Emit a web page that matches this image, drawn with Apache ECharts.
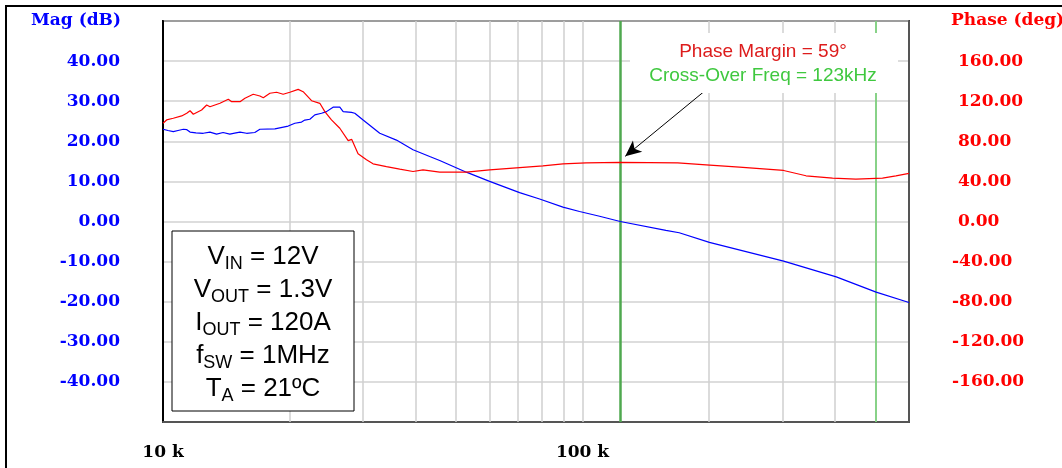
<!DOCTYPE html>
<html>
<head>
<meta charset="utf-8">
<script src="https://cdn.jsdelivr.net/npm/echarts@6/dist/echarts.min.js"></script>
<style>
  html, body { margin: 0; padding: 0; background: #ffffff; }
  #chart { width: 1062px; height: 468px; }
</style>
</head>
<body>
<div id="chart"></div>
<script>
// Loop gain of the regulator: magnitude (dB) and phase (deg) vs frequency (kHz)
const magFreqKHz = [10.0, 10.28, 10.58, 10.86, 11.18, 11.4, 11.6, 11.98, 12.47, 12.94, 13.42, 13.91, 14.43, 14.92,
  15.26, 15.82, 16.55, 17.02, 17.18, 18.48, 19.88, 20.62, 21.39, 21.78, 22.39, 23.01, 23.87, 24.53, 25.43, 26.39,
  26.88, 28.14, 28.65, 29.99, 32.86, 36.01, 39.44, 43.22, 45.66, 52.85, 60.05, 70.79, 79.01, 89.81, 98.37, 109.8,
  123, 158, 170, 200.6, 301.5, 402.5, 501, 600];
const magDb = [23.0, 22.7, 22.4, 22.7, 23.0, 22.9, 22.3, 22.1, 22.0, 22.3, 21.8, 22.2, 21.8, 22.1,
  22.3, 22.0, 22.2, 23.0, 22.8, 23.1, 23.8, 24.5, 24.8, 25.3, 25.5, 26.6, 27.0, 27.4, 28.5, 28.5,
  27.4, 27.2, 27.0, 25.3, 22.0, 20.3, 17.9, 16.2, 15.2, 12.3, 10.0, 7.2, 5.6, 3.6, 2.5, 1.3,
  0.0, -2.2, -2.8, -5.2, -9.9, -13.8, -17.6, -20.2];

const phaseFreqKHz = [10.0, 10.2, 10.58, 11.08, 11.39, 11.6, 11.81, 12.36, 12.71, 12.94, 13.67, 14.31, 14.58, 15.26,
  15.68, 16.41, 17.02, 17.34, 17.98, 18.65, 19.34, 20.06, 21.0, 21.58, 22.6, 23.65, 24.31, 25.21, 26.39, 27.63,
  28.18, 29.17, 30.55, 31.67, 34.09, 36.67, 39.44, 41.67, 45.66, 52.85, 60.05, 70.79, 80.45, 89.81, 102.0, 123,
  168.6, 197.0, 236.5, 301.5, 340.9, 394.5, 448.4, 518.8, 558.4, 600];
const phaseDeg = [98.0, 101.3, 103.0, 105.3, 108.0, 110.5, 107.0, 111.2, 116.2, 114.5, 117.9, 121.9, 119.5, 119.5,
  122.9, 126.9, 125.2, 123.5, 127.9, 128.9, 126.9, 128.9, 131.8, 129.5, 120.5, 117.9, 109.6, 101.3, 93.0, 80.7,
  81.9, 67.5, 61.5, 57.5, 54.8, 52.2, 49.9, 51.5, 49.2, 49.2, 51.5, 53.8, 55.5, 57.5, 58.4, 59.0,
  58.4, 56.5, 54.2, 50.9, 45.6, 43.3, 42.3, 43.3, 45.6, 48.0];

// Log-decade grid lines (kHz) and marker frequencies
const gridFreqKHz = [20, 30, 40, 50, 60, 70, 80, 90, 100, 200, 300, 400, 500];
const crossoverKHz = 123;
const halfFswKHz = 500;
const phaseMarginDeg = 59;

// Arrow from the annotation down to the phase curve at the crossover frequency
const arrowFrom = [194, 129];
const arrowTo = [126.4, 65];

const serifBold = { fontFamily: 'DejaVu Serif', fontWeight: 'bold', fontSize: 17 };

const chart = echarts.init(document.getElementById('chart'), null, { renderer: 'canvas' });

chart.setOption({
  animation: false,
  backgroundColor: '#ffffff',
  grid: {
    left: 163, top: 21, width: 746, height: 401,
    show: true, borderColor: '#000000', borderWidth: 2, backgroundColor: 'transparent'
  },
  xAxis: {
    type: 'log', logBase: 10, min: 10, max: 600,
    axisLine: { show: true, onZero: false, lineStyle: { color: '#555555', width: 2 } },
    axisTick: { show: false },
    splitLine: { show: false },
    axisLabel: Object.assign({
      color: '#000000', margin: 22, showMaxLabel: false,
      formatter: v => Math.round(v) + ' k'
    }, serifBold)
  },
  yAxis: [
    {
      type: 'value', position: 'left', min: -50, max: 50, interval: 10,
      axisLine: { show: true, onZero: false, lineStyle: { color: '#000000', width: 2 } },
      axisTick: { show: false },
      splitLine: { show: true, lineStyle: { color: '#d2d2d2', width: 1.5 } },
      axisLabel: Object.assign({
        color: '#0000ff', margin: 43, showMinLabel: false, showMaxLabel: false,
        formatter: v => v.toFixed(2)
      }, serifBold)
    },
    {
      type: 'value', position: 'right', min: -200, max: 200, interval: 40,
      axisLine: { show: true, onZero: false, lineStyle: { color: '#555555', width: 2 } },
      axisTick: { show: false },
      splitLine: { show: false },
      axisLabel: Object.assign({
        color: '#ff0000', margin: 43, align: 'left', showMinLabel: false, showMaxLabel: false,
        formatter: v => (v < 0 ? '' : '{s| }') + v.toFixed(2),
        rich: { s: { width: 6 } }
      }, serifBold)
    }
  ],
  series: [
    {
      name: 'Mag', type: 'line', yAxisIndex: 0, showSymbol: false, symbol: 'none', smooth: false,
      lineStyle: { color: '#0000ff', width: 1.2 },
      data: magFreqKHz.map((f, i) => [f, magDb[i]]),
      markLine: {
        silent: true, z: 1, animation: false, symbol: ['none', 'none'],
        label: { show: false }, emphasis: { disabled: true },
        data: gridFreqKHz.map(f => ({ xAxis: f, lineStyle: { color: '#cfcfcf', width: 1.5, type: 'solid' } }))
          .concat([
            { xAxis: crossoverKHz, lineStyle: { color: '#4fa84f', width: 2.5, type: 'solid' } },
            { xAxis: halfFswKHz, lineStyle: { color: '#6ccf6c', width: 1.5, type: 'solid' } }
          ])
      }
    },
    {
      name: 'Phase', type: 'line', yAxisIndex: 1, showSymbol: false, symbol: 'none', smooth: false,
      lineStyle: { color: '#ff0000', width: 1.2 },
      data: phaseFreqKHz.map((f, i) => [f, phaseDeg[i]]),
      markLine: {
        silent: true, z: 5, animation: false,
        symbol: ['none', 'arrow'], symbolSize: [11, 16],
        label: { show: false }, emphasis: { disabled: true },
        lineStyle: { color: '#000000', width: 1, type: 'solid' },
        itemStyle: { color: '#000000' },
        data: [[{ coord: arrowFrom }, { coord: arrowTo }]]
      }
    }
  ],
  graphic: [
    // outer frame
    { type: 'rect', z: 20, silent: true,
      shape: { x: 6, y: 6, width: 1100, height: 500 },
      style: { fill: 'none', stroke: '#000000', lineWidth: 2 } },
    // axis titles
    { type: 'text', z: 20, silent: true, x: 76, y: 21,
      style: { text: 'Mag (dB)', fill: '#0000ff', font: 'bold 17px "DejaVu Serif"', align: 'center', verticalAlign: 'middle' } },
    { type: 'text', z: 20, silent: true, x: 951, y: 21,
      style: { text: 'Phase (deg)', fill: '#ff0000', font: 'bold 17px "DejaVu Serif"', align: 'left', verticalAlign: 'middle' } },
    // annotation block
    { type: 'rect', z: 10, silent: true,
      shape: { x: 630, y: 33, width: 268, height: 60 },
      style: { fill: '#ffffff', stroke: 'none' } },
    { type: 'text', z: 11, silent: true, x: 763, y: 52,
      style: { text: 'Phase Margin = ' + phaseMarginDeg + '°', fill: '#dd1c1c', font: '19px "Liberation Sans"', align: 'center', verticalAlign: 'middle' } },
    { type: 'text', z: 11, silent: true, x: 763, y: 76,
      style: { text: 'Cross-Over Freq = ' + crossoverKHz + 'kHz', fill: '#3fc83f', font: '19px "Liberation Sans"', align: 'center', verticalAlign: 'middle' } },
    // operating conditions
    { type: 'rect', z: 10, silent: true,
      shape: { x: 172, y: 231, width: 182, height: 180 },
      style: { fill: '#ffffff', stroke: '#000000', lineWidth: 1 } },
    { type: 'text', z: 11, silent: true, x: 263, y: 323,
      style: {
        text: '{m|V}{s|IN}{m| = 12V}\n{m|V}{s|OUT}{m| = 1.3V}\n{m|I}{s|OUT}{m| = 120A}\n{m|f}{s|SW}{m| = 1MHz}\n{m|T}{s|A}{m| = 21ºC}',
        align: 'center', verticalAlign: 'middle', fill: '#000000',
        rich: {
          m: { fontFamily: 'Liberation Sans', fontSize: 26, lineHeight: 33, fill: '#000000' },
          s: { fontFamily: 'Liberation Sans', fontSize: 18, lineHeight: 14, verticalAlign: 'bottom', fill: '#000000' }
        }
      } }
  ]
});
</script>
</body>
</html>
